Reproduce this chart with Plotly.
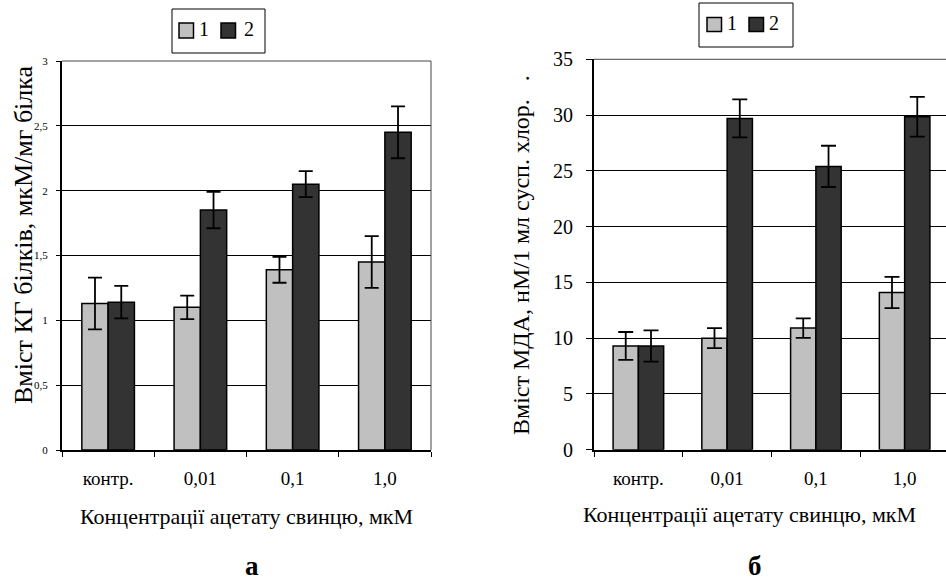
import plotly.graph_objects as go

W, H = 946, 581

categories = ["контр.", "0,01", "0,1", "1,0"]
series_names = ["1", "2"]

# Panel a: КГ білків
kg_s1 = [1.13, 1.10, 1.39, 1.45]
kg_s1_err = [0.20, 0.09, 0.10, 0.20]
kg_s2 = [1.14, 1.85, 2.05, 2.45]
kg_s2_err = [0.125, 0.14, 0.10, 0.20]

# Panel б: МДА
mda_s1 = [9.3, 10.0, 10.9, 14.1]
mda_s1_err = [1.25, 0.9, 0.88, 1.4]
mda_s2 = [9.3, 29.7, 25.4, 29.85]
mda_s2_err = [1.4, 1.7, 1.85, 1.78]

y_title_a = "Вміст КГ білків, мкМ/мг білка"
y_title_b = "Вміст МДА, нМ/1 мл сусп. хлор.&nbsp;&nbsp;&nbsp;."
x_title = "Концентрації ацетату свинцю, мкМ"
panel_labels = ["а", "б"]

FONT = "Liberation Serif, Times New Roman, serif"
c1, c2 = "#c0c0c0", "#333333"
colors = [c1, c2]


def px_x(p):
    return p / W


def px_y(p):
    return 1 - p / H


fig = go.Figure()

for vals, errs, name, col in [
    (kg_s1, kg_s1_err, series_names[0], c1),
    (kg_s2, kg_s2_err, series_names[1], c2),
]:
    fig.add_trace(go.Bar(
        x=categories, y=vals, name=name, xaxis="x", yaxis="y", showlegend=False,
        marker=dict(color=col, line=dict(color="black", width=1.5)),
        error_y=dict(type="data", array=errs, color="black", thickness=1.8, width=7),
    ))

for vals, errs, name, col in [
    (mda_s1, mda_s1_err, series_names[0], c1),
    (mda_s2, mda_s2_err, series_names[1], c2),
]:
    fig.add_trace(go.Bar(
        x=categories, y=vals, name=name, xaxis="x2", yaxis="y2", showlegend=False,
        marker=dict(color=col, line=dict(color="black", width=1.5)),
        error_y=dict(type="data", array=errs, color="black", thickness=1.8, width=7.5),
    ))

axis_common = dict(showline=True, linecolor="black", linewidth=2, ticks="outside",
                   tickcolor="black", zeroline=False, automargin=False)

fig.update_layout(
    width=W, height=H,
    margin=dict(l=0, r=0, t=0, b=0, autoexpand=False),
    paper_bgcolor="white", plot_bgcolor="white",
    font=dict(family=FONT, color="black"),
    separators=", ",
    barmode="group", bargap=0.43, bargroupgap=0,
    showlegend=False,
    xaxis=dict(domain=[px_x(62), px_x(431)], anchor="y", type="category",
               range=[-0.5, 3.5], tickson="boundaries", ticklen=5,
               showgrid=False, tickfont=dict(size=19), ticklabelstandoff=10,
               **axis_common),
    yaxis=dict(domain=[px_y(450), px_y(61)], anchor="x", range=[0, 3], dtick=0.5,
               showgrid=True, gridcolor="black", gridwidth=1, ticklen=4,
               tickfont=dict(size=11), ticklabelstandoff=6, **axis_common),
    xaxis2=dict(domain=[px_x(594), 1.0], anchor="y2", type="category",
                range=[-0.5, 3.466], tickson="boundaries", ticklen=5,
                showgrid=False, tickfont=dict(size=19), ticklabelstandoff=10,
                **axis_common),
    yaxis2=dict(domain=[px_y(449.7), px_y(59.3)], anchor="x2", range=[0, 35], dtick=5,
                showgrid=True, gridcolor="black", gridwidth=1, ticklen=6,
                tickfont=dict(size=20), ticklabelstandoff=9, **axis_common),
)

# plot-area borders (top and right)
fig.add_shape(type="line", xref="x domain", yref="y domain", x0=0, x1=1, y0=1, y1=1,
              line=dict(color="#444", width=1))
fig.add_shape(type="line", xref="x domain", yref="y domain", x0=1, x1=1, y0=0, y1=1,
              line=dict(color="#444", width=1))
fig.add_shape(type="line", xref="x2 domain", yref="y2 domain", x0=0, x1=1, y0=1, y1=1,
              line=dict(color="#444", width=1))

# legends (box, colour keys, labels)
legend_specs = [
    dict(box=(172, 9, 265, 53), sq=(179, 221), sqy=(23, 38), tx=(204, 249), ty=29),
    dict(box=(699, 3, 793, 47), sq=(707, 749), sqy=(17.5, 31.5), tx=(732, 774), ty=23),
]
for spec in legend_specs:
    bx0, by0, bx1, by1 = spec["box"]
    fig.add_shape(type="rect", xref="paper", yref="paper",
                  x0=px_x(bx0), x1=px_x(bx1), y0=px_y(by1), y1=px_y(by0),
                  line=dict(color="black", width=1), fillcolor="white", layer="above")
    for sx, col, nm, tx in zip(spec["sq"], colors, series_names, spec["tx"]):
        sy0, sy1 = spec["sqy"]
        fig.add_shape(type="rect", xref="paper", yref="paper",
                      x0=px_x(sx), x1=px_x(sx + 14.5), y0=px_y(sy1), y1=px_y(sy0),
                      line=dict(color="black", width=1.5), fillcolor=col, layer="above")
        fig.add_annotation(xref="paper", yref="paper", showarrow=False, text=nm,
                           x=px_x(tx), y=px_y(spec["ty"]), xanchor="center",
                           yanchor="middle", font=dict(size=20))

ann = [
    dict(text=y_title_a, x=px_x(24), y=px_y(235), textangle=-90, font=dict(size=26)),
    dict(text=y_title_b, x=px_x(521), y=px_y(255), textangle=-90, font=dict(size=24)),
    dict(text=x_title, x=px_x(246), y=px_y(516), font=dict(size=22)),
    dict(text=x_title, x=px_x(749), y=px_y(514), font=dict(size=22)),
    dict(text="<b>" + panel_labels[0] + "</b>", x=px_x(252), y=px_y(566), font=dict(size=27)),
    dict(text="<b>" + panel_labels[1] + "</b>", x=px_x(755), y=px_y(566), font=dict(size=27)),
]
for a in ann:
    fig.add_annotation(xref="paper", yref="paper", showarrow=False,
                       xanchor="center", yanchor="middle", **a)

fig.write_html("out.html", config={"displayModeBar": False},
               post_script="document.body.style.margin='0';")
